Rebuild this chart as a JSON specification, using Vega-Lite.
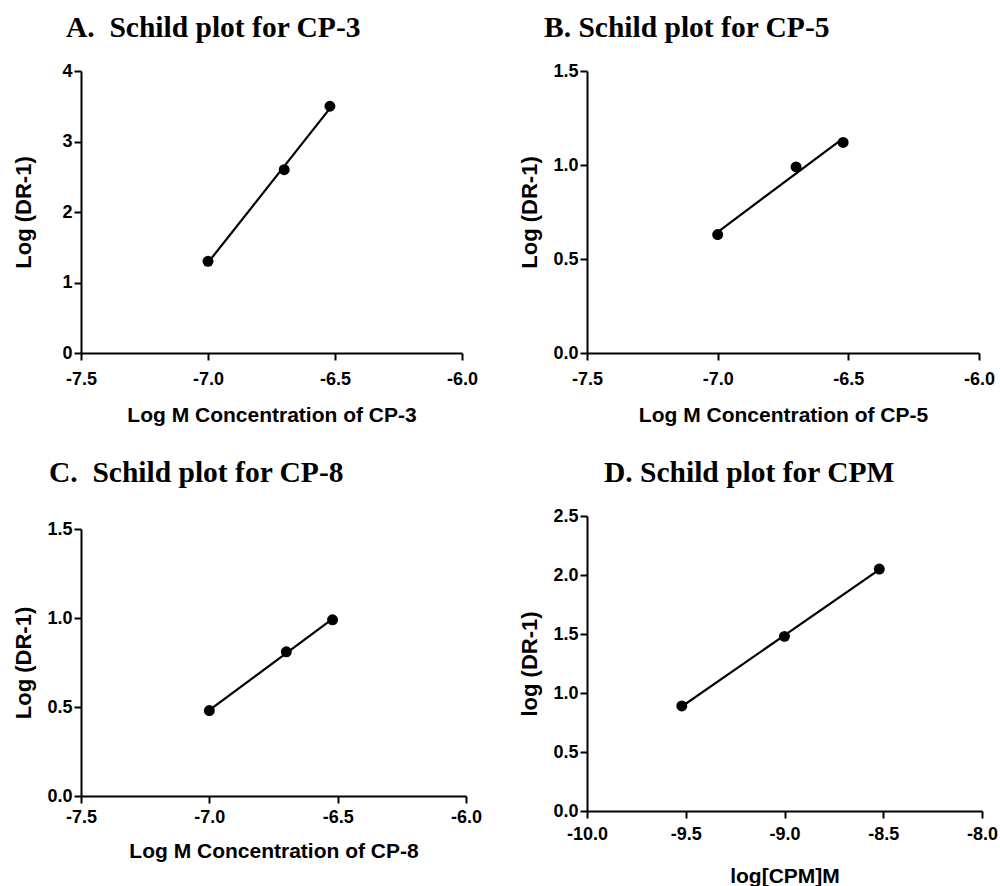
{
  "$schema": "https://vega.github.io/schema/vega-lite/v6.json",
  "padding": {"left": 12, "top": 12, "right": 0, "bottom": 0},
  "background": "white",
  "data": {"values": [
    {"panel": "A", "x": -7.0, "y": 1.3},
    {"panel": "A", "x": -6.7, "y": 2.6},
    {"panel": "A", "x": -6.52, "y": 3.5},
    {"panel": "B", "x": -7.0, "y": 0.63},
    {"panel": "B", "x": -6.7, "y": 0.99},
    {"panel": "B", "x": -6.52, "y": 1.12},
    {"panel": "C", "x": -7.0, "y": 0.48},
    {"panel": "C", "x": -6.7, "y": 0.81},
    {"panel": "C", "x": -6.52, "y": 0.99},
    {"panel": "D", "x": -9.52, "y": 0.89},
    {"panel": "D", "x": -9.0, "y": 1.48},
    {"panel": "D", "x": -8.52, "y": 2.05}
  ]},
  "config": {
    "view": {"stroke": null},
    "axis": {
      "grid": false,
      "domainColor": "black", "domainWidth": 2,
      "tickColor": "black", "tickWidth": 2, "tickSize": 7,
      "labelFont": "Liberation Sans", "labelFontWeight": "bold", "labelFontSize": 18, "labelColor": "black",
      "titleFont": "Liberation Sans", "titleFontWeight": "bold", "titleFontSize": 21, "titleColor": "black",
      "labelFlush": false, "labelOverlap": false
    },
    "axisY": {"labelPadding": 2, "titlePadding": 13, "minExtent": 33, "maxExtent": 33, "titleFontSize": 22},
    "axisX": {"labelPadding": 10, "titlePadding": 16, "labelExpr": "replace(format(datum.value, '.1f'), '\u2212', '-')"},
    "title": {"font": "Liberation Serif", "fontSize": 29.5, "fontWeight": "bold", "color": "black", "anchor": "start", "frame": "group"}
  },
  "spacing": 36,
  "hconcat": [
    {
      "spacing": 32,
      "vconcat": [
        {
          "title": {"text": "A.\u00a0 Schild plot for CP-3", "dx": -15, "offset": 19},
          "width": 381, "height": 282,
          "transform": [{"filter": "datum.panel === 'A'"}],
          "encoding": {
            "x": {"field": "x", "type": "quantitative", "scale": {"domain": [-7.5, -6.0], "nice": false}, "axis": {"values": [-7.5, -7.0, -6.5, -6.0], "title": "Log M Concentration of CP-3"}},
            "y": {"field": "y", "type": "quantitative", "scale": {"domain": [0, 4], "nice": false}, "axis": {"values": [0, 1, 2, 3, 4], "format": "d", "title": "Log (DR-1)"}}
          },
          "layer": [
            {"transform": [{"regression": "y", "on": "x"}], "mark": {"type": "line", "color": "black", "strokeWidth": 2.2}},
            {"mark": {"type": "point", "filled": true, "color": "black", "opacity": 1, "size": 120}}
          ]
        },
        {
          "title": {"text": "C.\u00a0 Schild plot for CP-8", "dx": -32, "offset": 32},
          "width": 385, "height": 267,
          "transform": [{"filter": "datum.panel === 'C'"}],
          "encoding": {
            "x": {"field": "x", "type": "quantitative", "scale": {"domain": [-7.5, -6.0], "nice": false}, "axis": {"values": [-7.5, -7.0, -6.5, -6.0], "title": "Log M Concentration of CP-8", "labelPadding": 5, "titlePadding": 14}},
            "y": {"field": "y", "type": "quantitative", "scale": {"domain": [0, 1.5], "nice": false}, "axis": {"values": [0, 0.5, 1.0, 1.5], "format": ".1f", "title": "Log (DR-1)"}}
          },
          "layer": [
            {"transform": [{"regression": "y", "on": "x"}], "mark": {"type": "line", "color": "black", "strokeWidth": 2.2}},
            {"mark": {"type": "point", "filled": true, "color": "black", "opacity": 1, "size": 120}}
          ]
        }
      ]
    },
    {
      "spacing": 32,
      "vconcat": [
        {
          "title": {"text": "B. Schild plot for CP-5", "dx": -43, "offset": 19},
          "width": 392, "height": 282,
          "transform": [{"filter": "datum.panel === 'B'"}],
          "encoding": {
            "x": {"field": "x", "type": "quantitative", "scale": {"domain": [-7.5, -6.0], "nice": false}, "axis": {"values": [-7.5, -7.0, -6.5, -6.0], "title": "Log M Concentration of CP-5"}},
            "y": {"field": "y", "type": "quantitative", "scale": {"domain": [0, 1.5], "nice": false}, "axis": {"values": [0, 0.5, 1.0, 1.5], "format": ".1f", "title": "Log (DR-1)"}}
          },
          "layer": [
            {"transform": [{"regression": "y", "on": "x"}], "mark": {"type": "line", "color": "black", "strokeWidth": 2.2}},
            {"mark": {"type": "point", "filled": true, "color": "black", "opacity": 1, "size": 120}}
          ]
        },
        {
          "title": {"text": "D. Schild plot for CPM", "dx": 17, "offset": 19},
          "width": 395, "height": 295,
          "transform": [{"filter": "datum.panel === 'D'"}],
          "encoding": {
            "x": {"field": "x", "type": "quantitative", "scale": {"domain": [-10.0, -8.0], "nice": false}, "axis": {"values": [-10.0, -9.5, -9.0, -8.5, -8.0], "title": "log[CPM]M", "labelPadding": 7, "titlePadding": 22}},
            "y": {"field": "y", "type": "quantitative", "scale": {"domain": [0, 2.5], "nice": false}, "axis": {"values": [0, 0.5, 1.0, 1.5, 2.0, 2.5], "format": ".1f", "title": "log (DR-1)"}}
          },
          "layer": [
            {"transform": [{"regression": "y", "on": "x"}], "mark": {"type": "line", "color": "black", "strokeWidth": 2.2}},
            {"mark": {"type": "point", "filled": true, "color": "black", "opacity": 1, "size": 120}}
          ]
        }
      ]
    }
  ]
}
